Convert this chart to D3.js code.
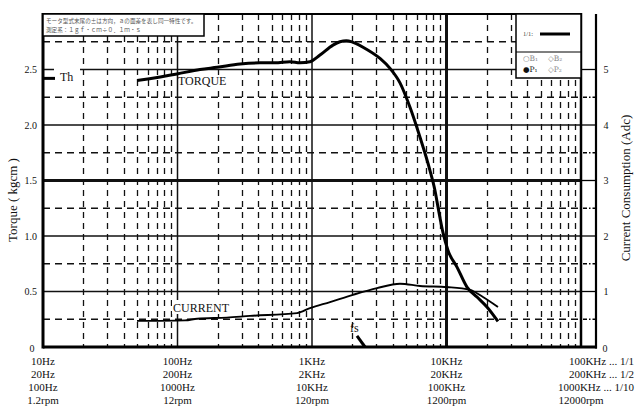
<!DOCTYPE html>
<html>
<head>
<meta charset="utf-8">
<script src="https://cdn.jsdelivr.net/npm/d3@7"></script>
<style>
  body { margin: 0; background: #fff; }
  svg { display: block; font-family: "Liberation Serif", "Times New Roman", serif; }
</style>
</head>
<body>
<div id="chart"></div>
<script>
// values
const torqueFreq = [50, 99, 147, 197, 292, 410, 531, 686, 814, 966, 1146, 1432, 1614, 1800, 2017, 2565, 3204, 3802, 4510, 5354, 6354, 7540, 8210, 8649, 9419, 10260, 11970, 14200, 16860, 19990, 24140];
const torqueValue = [2.40, 2.46, 2.50, 2.52, 2.55, 2.56, 2.56, 2.57, 2.56, 2.57, 2.63, 2.72, 2.75, 2.76, 2.745, 2.68, 2.60, 2.51, 2.38, 2.16, 1.89, 1.59, 1.41, 1.26, 1.03, 0.87, 0.72, 0.54, 0.45, 0.36, 0.23];

const currentFreq = [50, 114, 140, 233, 346, 773, 966, 1361, 2017, 3042, 4510, 6354, 10090, 14950, 18670, 24140];
const currentValue = [0.47, 0.48, 0.51, 0.53, 0.56, 0.61, 0.70, 0.81, 0.94, 1.06, 1.14, 1.10, 1.08, 1.03, 0.90, 0.72];

const thTorque = 2.42;
const fsFreq = [2160, 2480];
const fsTorque = [0.10, 0];

const torqueMajor = [0.5, 1.0, 1.5, 2.0, 2.5];
const torqueMinor = [0.25, 0.75, 1.25, 1.75, 2.25, 2.75];
const torqueLabels = ["0.5", "1.0", "1.5", "2.0", "2.5"];
const currentMajor = [1, 2, 3, 4, 5];
const currentMinor = [0.5, 1.5, 2.5, 3.5, 4.5];

const decades = [10, 100, 1000, 10000, 100000];
const xRows = [
  ["10Hz", "100Hz", "1KHz", "10KHz", "100KHz ... 1/1"],
  ["20Hz", "200Hz", "2KHz", "20KHz", "200KHz ... 1/2"],
  ["100Hz", "1000Hz", "10KHz", "100KHz", "1000KHz ... 1/10"],
  ["1.2rpm", "12rpm", "120rpm", "1200rpm", "12000rpm"],
];

const noteLines = [
  "モータ型式末尾の±は方向，ａの面差を表し同一特性です。",
  "測定系：１ｇｆ・ｃｍ÷０．１ｍ・ｓ",
];

const width = 637;
const height = 406;
const plotLeft = 43, plotRight = 581, plotTop = 14, plotBottom = 347;
const axisX = 596;

const x = d3.scaleLog().domain([10, 100000]).range([plotLeft, plotRight]);
const y = d3.scaleLinear().domain([0, 3]).range([plotBottom, plotTop]);
const yCur = d3.scaleLinear().domain([0, 6]).range([plotBottom, plotTop]);

const svg = d3.select("#chart").append("svg")
  .attr("width", width).attr("height", height);

svg.append("rect").attr("width", width).attr("height", height).attr("fill", "#fff");

const grid = svg.append("g").attr("stroke", "#111").attr("fill", "none");

// dashed verticals, 2..9 of each decade
const minorFreq = x.ticks().filter((f) => !decades.includes(f));
grid.selectAll(".vdash").data(minorFreq).join("line")
  .attr("x1", (d) => Math.round(x(d)) + 0.5).attr("x2", (d) => Math.round(x(d)) + 0.5)
  .attr("y1", plotTop).attr("y2", plotBottom)
  .attr("stroke-width", 1.3).attr("stroke-dasharray", "6,5");

grid.selectAll(".hdash").data(torqueMinor).join("line")
  .attr("x1", plotLeft).attr("x2", plotRight)
  .attr("y1", (d) => y(d)).attr("y2", (d) => y(d))
  .attr("stroke-width", 1.3).attr("stroke-dasharray", "7,5");

grid.selectAll(".hsolid").data(torqueMajor).join("line")
  .attr("x1", plotLeft).attr("x2", plotRight)
  .attr("y1", (d) => y(d)).attr("y2", (d) => y(d))
  .attr("stroke-width", (d) => (d === 1.5 ? 3 : 1.3));

grid.selectAll(".vsolid").data([100, 1000, 10000]).join("line")
  .attr("x1", (d) => x(d)).attr("x2", (d) => x(d))
  .attr("y1", plotTop).attr("y2", plotBottom)
  .attr("stroke-width", (d) => (d === 10000 ? 3 : 1.5));

// frame and right axis
const frame = svg.append("g").attr("stroke", "#000").attr("fill", "none");
frame.append("line").attr("x1", plotLeft).attr("x2", plotLeft).attr("y1", plotTop - 1).attr("y2", plotBottom + 1.5).attr("stroke-width", 3);
frame.append("line").attr("x1", plotLeft).attr("x2", plotRight).attr("y1", plotTop).attr("y2", plotTop).attr("stroke-width", 2.2);
frame.append("line").attr("x1", plotLeft).attr("x2", axisX + 1).attr("y1", plotBottom).attr("y2", plotBottom).attr("stroke-width", 3);
frame.append("line").attr("x1", plotRight).attr("x2", plotRight).attr("y1", plotTop - 1).attr("y2", plotBottom).attr("stroke-width", 2.5);
frame.append("line").attr("x1", axisX).attr("x2", axisX).attr("y1", plotTop).attr("y2", plotBottom + 1.5).attr("stroke-width", 2.2);

frame.selectAll(".rtick").data(currentMajor).join("line")
  .attr("x1", plotRight).attr("x2", axisX)
  .attr("y1", (d) => yCur(d)).attr("y2", (d) => yCur(d))
  .attr("stroke-width", 1.3);
frame.selectAll(".rtick2").data(currentMinor).join("line")
  .attr("x1", plotRight + 2).attr("x2", axisX)
  .attr("y1", (d) => yCur(d)).attr("y2", (d) => yCur(d))
  .attr("stroke-width", 1.3).attr("stroke-dasharray", "4,2,1.5,2");

// note box (top left)
svg.append("rect").attr("x", plotLeft).attr("y", plotTop).attr("width", 161).attr("height", 22)
  .attr("fill", "#fff").attr("stroke", "#000").attr("stroke-width", 1.5);
svg.append("g").selectAll("text").data(noteLines).join("text")
  .attr("x", plotLeft + 3).attr("y", (d, i) => plotTop + 8.5 + i * 9)
  .attr("font-family", "Noto Sans CJK JP").attr("font-size", 5.6)
  .attr("fill", "#555").text((d) => d);

// legend box (top right)
const lg = svg.append("g");
lg.append("rect").attr("x", 516).attr("y", plotTop).attr("width", plotRight - 516).attr("height", 64)
  .attr("fill", "#fff").attr("stroke", "#000").attr("stroke-width", 1.5);
lg.append("line").attr("x1", 516).attr("x2", plotRight).attr("y1", 52).attr("y2", 52)
  .attr("stroke", "#000").attr("stroke-width", 1);
lg.append("text").attr("x", 523).attr("y", 36).attr("font-size", 6.5).attr("fill", "#444").text("1/1:");
lg.append("line").attr("x1", 540).attr("x2", 570).attr("y1", 34).attr("y2", 34)
  .attr("stroke", "#000").attr("stroke-width", 3);
const legendMarks = [
  { t: "○B₁", x: 523, y: 61, c: "#888" },
  { t: "◇B₂", x: 548, y: 61, c: "#888" },
  { t: "●P₁", x: 523, y: 72, c: "#111" },
  { t: "◇P₂", x: 548, y: 72, c: "#888" },
];
lg.selectAll(".lm").data(legendMarks).join("text")
  .attr("x", (d) => d.x).attr("y", (d) => d.y)
  .attr("font-family", "DejaVu Serif")
  .attr("font-size", 7.5).attr("fill", (d) => d.c).text((d) => d.t);

// label backgrounds
const bg = svg.append("g").attr("fill", "#fff");
bg.append("rect").attr("x", 54).attr("y", 62).attr("width", 26).attr("height", 27);
bg.append("rect").attr("x", 179).attr("y", 75).attr("width", 48).attr("height", 12);
bg.append("rect").attr("x", 172).attr("y", 300).attr("width", 61).attr("height", 14);

// curves
const line = d3.line().curve(d3.curveMonotoneX);
svg.append("path")
  .attr("d", line(torqueFreq.map((f, i) => [x(f), y(torqueValue[i])])))
  .attr("fill", "none").attr("stroke", "#000").attr("stroke-width", 3)
  .attr("stroke-linejoin", "round");
svg.append("path")
  .attr("d", line(currentFreq.map((f, i) => [x(f), yCur(currentValue[i])])))
  .attr("fill", "none").attr("stroke", "#000").attr("stroke-width", 1.9)
  .attr("stroke-linejoin", "round");

svg.append("line")
  .attr("x1", x(fsFreq[0])).attr("y1", y(fsTorque[0]))
  .attr("x2", x(fsFreq[1])).attr("y2", y(fsTorque[1]))
  .attr("stroke", "#000").attr("stroke-width", 3);
svg.append("line").attr("x1", plotLeft).attr("x2", 55)
  .attr("y1", y(thTorque)).attr("y2", y(thTorque))
  .attr("stroke", "#000").attr("stroke-width", 3);

// texts
const txt = svg.append("g").attr("fill", "#111");
txt.append("text").attr("x", 60).attr("y", 81).attr("font-size", 12).text("Th");
txt.append("text").attr("x", 178).attr("y", 84.5).attr("font-size", 12).text("TORQUE");
txt.append("text").attr("x", 173).attr("y", 312).attr("font-size", 12).text("CURRENT");
txt.append("text").attr("x", 350).attr("y", 331.5).attr("font-size", 12).text("fs");

txt.selectAll(".yl").data(torqueMajor).join("text")
  .attr("x", 37).attr("y", (d) => y(d) + 3.5)
  .attr("text-anchor", "end").attr("font-size", 10)
  .text((d, i) => torqueLabels[i]);
txt.append("text").attr("x", 32).attr("y", 352).attr("text-anchor", "middle").attr("font-size", 10).text("0");

txt.selectAll(".yr").data(currentMajor).join("text")
  .attr("x", 606).attr("y", (d) => yCur(d) + 3.5)
  .attr("text-anchor", "middle").attr("font-size", 10).text((d) => d);
txt.append("text").attr("x", 605).attr("y", 352).attr("text-anchor", "middle").attr("font-size", 10).text("0");

txt.append("text")
  .attr("transform", "translate(17,200) rotate(-90)")
  .attr("text-anchor", "middle").attr("font-size", 13).text("Torque ( kgcm )");
txt.append("text")
  .attr("transform", "translate(630,188) rotate(-90)")
  .attr("text-anchor", "middle").attr("font-size", 13).text("Current Consumption  (Adc)");

const rowY = [364.5, 377.5, 390.5, 403.5];
xRows.forEach((row, r) => {
  row.forEach((label, i) => {
    const last = i === row.length - 1 && r < 3;
    txt.append("text")
      .attr("x", last ? 634 : x(decades[i])).attr("y", rowY[r])
      .attr("text-anchor", last ? "end" : "middle").attr("font-size", 11)
      .style("white-space", "pre")
      .text(label);
  });
});
</script>
</body>
</html>
